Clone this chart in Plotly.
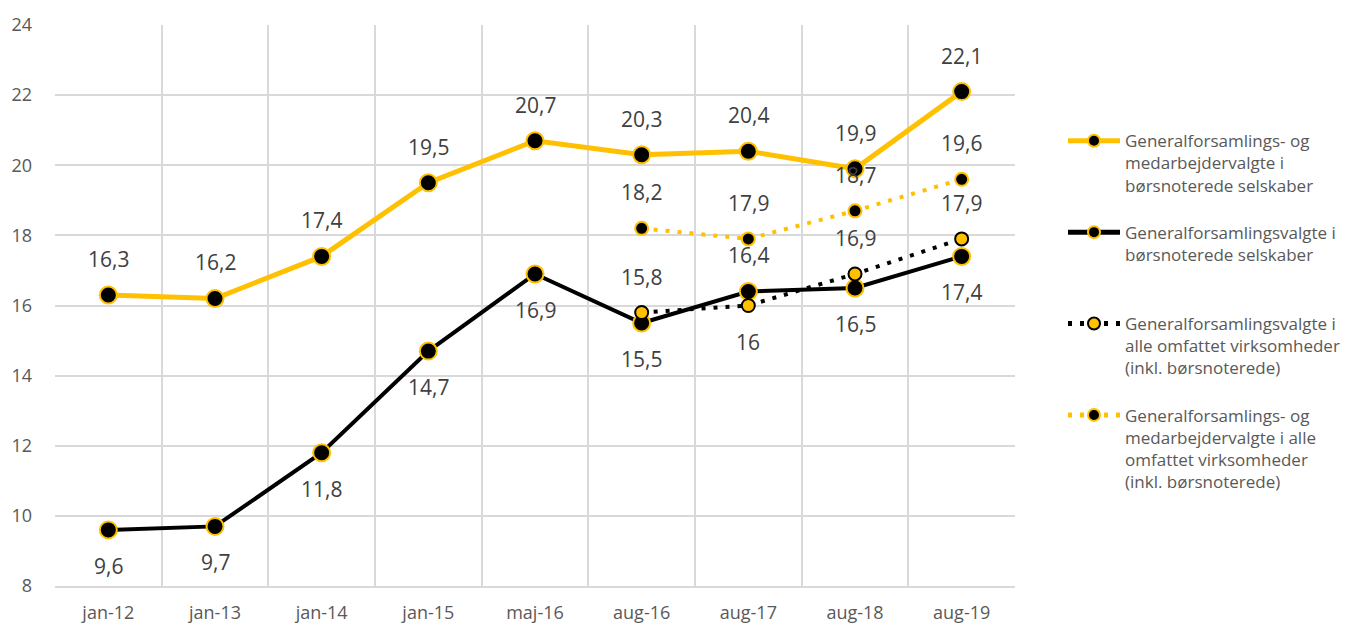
import plotly.graph_objects as go

categories = ["jan-12", "jan-13", "jan-14", "jan-15", "maj-16", "aug-16", "aug-17", "aug-18", "aug-19"]
gf_med_listed = [16.3, 16.2, 17.4, 19.5, 20.7, 20.3, 20.4, 19.9, 22.1]
gf_listed = [9.6, 9.7, 11.8, 14.7, 16.9, 15.5, 16.4, 16.5, 17.4]
gf_all = [None, None, None, None, None, 15.8, 16.0, 16.9, 17.9]
gf_med_all = [None, None, None, None, None, 18.2, 17.9, 18.7, 19.6]

labels_gf_med_listed = ["16,3", "16,2", "17,4", "19,5", "20,7", "20,3", "20,4", "19,9", "22,1"]
labels_gf_listed = ["9,6", "9,7", "11,8", "14,7", "16,9", "15,5", "16,4", "16,5", "17,4"]
labels_gf_all = [None, None, None, None, None, "15,8", "16", "16,9", "17,9"]
labels_gf_med_all = [None, None, None, None, None, "18,2", "17,9", "18,7", "19,6"]

# label placement: +1 above, -1 below
pos_gf_med_listed = [1] * 9
pos_gf_listed = [-1, -1, -1, -1, -1, -1, 1, -1, -1]
pos_gf_all = [0, 0, 0, 0, 0, 1, -1, 1, 1]
pos_gf_med_all = [0, 0, 0, 0, 0, 1, 1, 1, 1]

names = [
    "Generalforsamlings- og<br>medarbejdervalgte i<br>børsnoterede selskaber<br> ",
    "Generalforsamlingsvalgte i<br>børsnoterede selskaber<br> <br> ",
    "Generalforsamlingsvalgte i<br>alle omfattet virksomheder<br>(inkl. børsnoterede)<br> ",
    "Generalforsamlings- og<br>medarbejdervalgte i alle<br>omfattet virksomheder<br>(inkl. børsnoterede)",
]

YEL = "#FFC000"
BLK = "#000000"
TXT = "#404040"
AX = "#595959"
FONT = "Open Sans"

fig = go.Figure()

fig.add_trace(go.Scatter(
    x=categories, y=gf_med_listed, name=names[0], mode="lines+markers",
    line=dict(color=YEL, width=5),
    marker=dict(size=17, color=BLK, line=dict(color=YEL, width=2)),
))
fig.add_trace(go.Scatter(
    x=categories, y=gf_listed, name=names[1], mode="lines+markers",
    line=dict(color=BLK, width=4),
    marker=dict(size=17, color=BLK, line=dict(color=YEL, width=2)),
))
fig.add_trace(go.Scatter(
    x=categories, y=gf_all, name=names[2], mode="lines+markers",
    line=dict(color=BLK, width=4, dash="4px,8px"),
    marker=dict(size=13, color=YEL, line=dict(color=BLK, width=2)),
))
fig.add_trace(go.Scatter(
    x=categories, y=gf_med_all, name=names[3], mode="lines+markers",
    line=dict(color=YEL, width=4, dash="4px,8px"),
    marker=dict(size=13, color=BLK, line=dict(color=YEL, width=2)),
))

annotations = []
for vals, labs, poss in [
    (gf_med_listed, labels_gf_med_listed, pos_gf_med_listed),
    (gf_listed, labels_gf_listed, pos_gf_listed),
    (gf_all, labels_gf_all, pos_gf_all),
    (gf_med_all, labels_gf_med_all, pos_gf_med_all),
]:
    for c, v, t, p in zip(categories, vals, labs, poss):
        if v is None or t is None:
            continue
        annotations.append(dict(
            x=c, y=v, text=t, showarrow=False, xref="x", yref="y",
            yshift=36 * p, font=dict(family=FONT, size=21, color=TXT),
        ))

fig.update_layout(
    width=1363, height=624,
    margin=dict(l=55, r=348, t=25, b=38, autoexpand=False),
    paper_bgcolor="white", plot_bgcolor="white",
    font=dict(family=FONT, size=17, color=AX),
    annotations=annotations,
    showlegend=True,
    legend=dict(
        x=1.05, xanchor="left", y=0.825, yanchor="top",
        valign="top", font=dict(family=FONT, size=17, color=AX),
        tracegroupgap=0, itemwidth=52, itemsizing="constant",
    ),
    xaxis=dict(
        type="category", tickson="boundaries", showgrid=True, gridcolor="#D9D9D9",
        gridwidth=1.5, ticks="", showline=True, linecolor="#D9D9D9", linewidth=1.5,
        tickfont=dict(family=FONT, size=18, color=AX), ticklabelstandoff=10,
        range=[-0.5, 8.5], automargin=False,
    ),
    yaxis=dict(
        range=[8, 24], dtick=2, showgrid=True, gridcolor="#D9D9D9", gridwidth=1.5,
        zeroline=False, ticks="", showline=False, automargin=False,
        tickfont=dict(family=FONT, size=18, color=AX), ticklabelstandoff=22,
    ),
)

fig.write_html(
    "out.html",
    config={"displayModeBar": False},
    post_script="document.body.style.margin='0';document.body.style.padding='0';",
)
